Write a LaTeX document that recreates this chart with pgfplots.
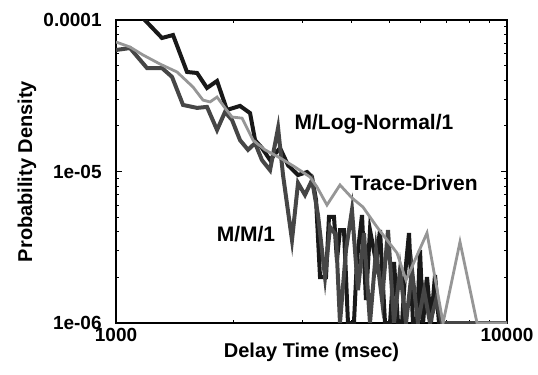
\documentclass[border=0pt]{standalone}
\usepackage{fontspec}
\setmainfont{Liberation Sans}
\usepackage{pgfplots}
\pgfplotsset{compat=1.18}
\definecolor{tracegray}{RGB}{150,150,150}
\definecolor{mmgray}{RGB}{70,70,70}
\definecolor{lnblack}{RGB}{25,25,25}
\begin{document}
\begin{tikzpicture}[font=\fontsize{10}{12}\selectfont\bfseries]
\begin{axis}[
  xmode=log, ymode=log,
  scale only axis, width=195.5pt, height=151.5pt,
  xmin=1000, xmax=10000, ymin=1e-6, ymax=1e-4,
  xtick={1000,10000}, xticklabels={1000,10000},
  ytick={1e-6,1e-5,1e-4}, yticklabels={1e-06,1e-05,0.0001},
  minor xtick={2000,3000,4000,5000,6000,7000,8000,9000},
  minor ytick={2e-6,3e-6,4e-6,5e-6,6e-6,7e-6,8e-6,9e-6,2e-5,3e-5,4e-5,5e-5,6e-5,7e-5,8e-5,9e-5},
  tick align=inside, major tick length=3pt, minor tick length=1.5pt,
  axis line style={line width=0.6pt},
  tick style={line width=0.5pt, black},
  xticklabel style={inner sep=0pt, anchor=north, yshift=-2.5pt, font=\fontsize{9.5}{11}\selectfont\bfseries},
  yticklabel style={inner sep=0pt, anchor=east, xshift=-7pt, font=\fontsize{9.5}{11}\selectfont\bfseries},
  xlabel={Delay Time (msec)}, ylabel={Probability Density},
  xlabel style={at={(axis description cs:0.5,-0.096)}, anchor=center},
  ylabel style={at={(axis description cs:-0.2276,0.5)}, anchor=center},
]
% M/Log-Normal/1
\addplot[lnblack, line width=2pt, line join=miter] coordinates {
(1054,1.26e-4) (1172,1.03e-4) (1311,7.61e-5) (1399,7.96e-5) (1519,4.54e-5)
(1612,4.47e-5) (1709,3.56e-5) (1813,3.96e-5) (1922,2.55e-5) (2076,2.71e-5)
(2202,2.43e-5) (2268,1.61e-5) (2362,1.43e-5) (2477,1.19e-5) (2627,1.43e-5)
(2754,1.10e-5) (2921,9.48e-6) (3080,9.92e-6) (3172,9.20e-6) (3248,6.48e-6)
(3325,2.01e-6) (3444,2.01e-6) (3505,5.01e-6) (3610,5.01e-6) (3674,2.60e-6)
(3740,4.11e-6) (3829,4.11e-6) (3920,1e-6) (4060,1e-6) (4132,2.60e-6)
(4257,5.16e-6) (4358,1.42e-6) (4462,4.11e-6) (4624,2.53e-6) (4734,4.11e-6)
(4875,1e-6) (5021,1e-6) (5140,2.53e-6) (5263,1e-6) (5389,1e-6)
(5484,2.07e-6) (5615,3.93e-6) (5749,1e-6) (5886,1e-6) (5991,3.03e-6)
(6098,1e-6) (6243,2.01e-6) (6392,1e-6) (6545,2.07e-6) (6701,1e-6)
(6821,1e-6) (10000,1e-6)
};
% M/M/1
\addplot[mmgray, line width=2pt] coordinates {
(1000,6.34e-5) (1086,6.53e-5) (1200,4.82e-5) (1311,4.82e-5) (1391,4.21e-5)
(1484,2.75e-5) (1612,2.63e-5) (1709,2.67e-5) (1813,1.88e-5) (1900,2.47e-5)
(1980,2.19e-5) (2076,1.61e-5) (2176,1.39e-5) (2268,1.54e-5) (2362,1.19e-5)
(2477,1.02e-5) (2597,1.94e-5) (2674,9.48e-6) (2819,3.53e-6) (2921,8.40e-6)
(3043,7.00e-6) (3172,8.79e-6) (3286,5.16e-6) (3424,2.01e-6) (3526,4.30e-6)
(3653,3.81e-6) (3740,1e-6) (3874,3.03e-6) (4013,5.57e-6) (4157,1.65e-6)
(4307,3.93e-6) (4462,1e-6) (4624,3.03e-6) (4790,1.42e-6) (4962,4.11e-6)
(5140,1e-6) (5325,2.24e-6) (5517,1e-6) (5715,2.24e-6) (5920,1e-6)
(6134,1.65e-6) (6355,1e-6) (6583,1.42e-6) (6821,1e-6) (10000,1e-6)
};
% Trace-Driven
\addplot[tracegray, line width=1.4pt] coordinates {
(1000,7.16e-5) (1086,6.63e-5) (1172,5.88e-5) (1296,5.12e-5) (1432,4.54e-5)
(1574,3.61e-5) (1669,2.96e-5) (1740,2.88e-5) (1813,3.10e-5) (1900,2.63e-5)
(1980,2.29e-5) (2101,2.25e-5) (2241,1.61e-5) (2404,1.39e-5) (2627,1.23e-5)
(2870,1.07e-5) (3135,9.20e-6) (3267,7.90e-6) (3464,6.01e-6) (3740,8.15e-6)
(4013,6.69e-6) (4281,5.83e-6) (4651,4.30e-6) (5232,2.90e-6) (5517,1.92e-6)
(6243,3.93e-6) (6861,1e-6) (7582,3.43e-6) (8381,1e-6) (10000,1e-6)
};
\node[font=\fontsize{10.5}{12}\selectfont\bfseries] at (axis cs:4568,2.058e-5) {M/Log-Normal/1};
\node[font=\fontsize{10.5}{12}\selectfont\bfseries] at (axis cs:5783,8.40e-6) {Trace-Driven};
\node[font=\fontsize{10.5}{12}\selectfont\bfseries] at (axis cs:2150,3.87e-6) {M/M/1};
\end{axis}
\pgfresetboundingbox
\path[use as bounding box] ([xshift=-58pt,yshift=-25.5pt]current axis.south west) rectangle ([xshift=15.5pt,yshift=10pt]current axis.north east);
\end{tikzpicture}
\end{document}
